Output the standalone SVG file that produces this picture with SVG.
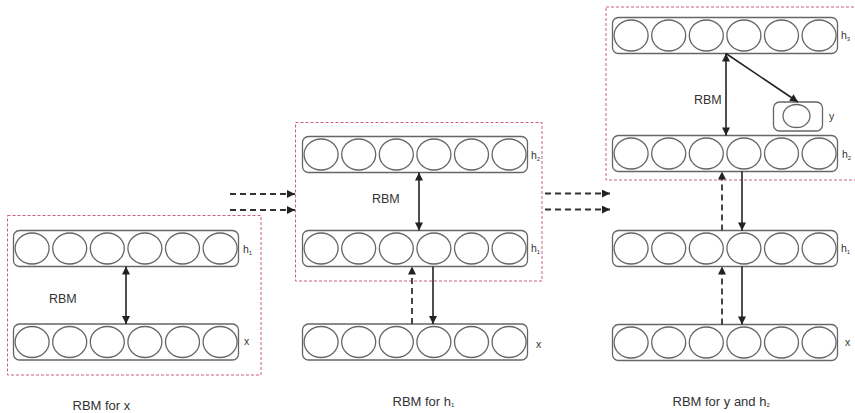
<svg xmlns="http://www.w3.org/2000/svg" xmlns:xlink="http://www.w3.org/1999/xlink" width="855" height="413" viewBox="0 0 855 413">
  <style>
    .frame { fill: none; stroke: #c8607a; stroke-width: 1; stroke-dasharray: 3 2; }
    .box { fill: #fff; stroke: #666; stroke-width: 1.3; }
    .unit { fill: #fff; stroke: #666; stroke-width: 1.3; }
    .solid { fill: none; stroke: #222; stroke-width: 1.6; }
    .dash { fill: none; stroke: #333; stroke-width: 1.8; stroke-dasharray: 6 4; }
    .lbl { font-family: "Liberation Sans", Arial, sans-serif; font-size: 10.5px; fill: #333; }
    .rbm { font-family: "Liberation Sans", Arial, sans-serif; font-size: 12.5px; fill: #333; }
    .cap { font-family: "Liberation Sans", Arial, sans-serif; font-size: 13px; fill: #333; }
    .sub { font-size: 6px; }
  </style>
  <defs>
    <marker id="head" viewBox="0 0 10 10" refX="10" refY="5" markerWidth="9" markerHeight="8" markerUnits="userSpaceOnUse" orient="auto-start-reverse">
      <path d="M0,0 L10,5 L0,10 z" fill="#222"/>
    </marker>
    <!-- one layer: rounded box holding six units -->
    <g id="row">
      <rect class="box" x="0" y="0" width="225" height="36" rx="6"/>
      <ellipse class="unit" cx="18.6" cy="18" rx="17" ry="15.5"/>
      <ellipse class="unit" cx="56.2" cy="18" rx="17" ry="15.5"/>
      <ellipse class="unit" cx="93.8" cy="18" rx="17" ry="15.5"/>
      <ellipse class="unit" cx="131.4" cy="18" rx="17" ry="15.5"/>
      <ellipse class="unit" cx="169" cy="18" rx="17" ry="15.5"/>
      <ellipse class="unit" cx="206.6" cy="18" rx="17" ry="15.5"/>
    </g>
  </defs>

  <!-- dashed frames around each RBM -->
  <g id="frames">
    <rect class="frame" x="7.5" y="215.5" width="253.5" height="159.5"/>
    <rect class="frame" x="295.5" y="122.5" width="246.5" height="158.5"/>
    <rect class="frame" x="606" y="7" width="254" height="173"/>
  </g>

  <!-- stage 1: RBM for x -->
  <g id="s1-h1"><use xlink:href="#row" x="13.5" y="230.5"/><text class="lbl" x="243" y="253">h<tspan class="sub" dy="1.5">1</tspan></text></g>
  <g id="s1-x"><use xlink:href="#row" x="13.5" y="324"/><text class="lbl" x="244" y="345">x</text></g>

  <!-- stage 2: RBM for h1 -->
  <g id="s2-h2"><use xlink:href="#row" x="302.5" y="136.5"/><text class="lbl" x="531" y="159">h<tspan class="sub" dy="1.5">2</tspan></text></g>
  <g id="s2-h1"><use xlink:href="#row" x="302.5" y="230.5"/><text class="lbl" x="531" y="252">h<tspan class="sub" dy="1.5">1</tspan></text></g>
  <g id="s2-x"><use xlink:href="#row" x="302.5" y="324"/><text class="lbl" x="536" y="348">x</text></g>

  <!-- stage 3: RBM for y and h2 -->
  <g id="s3-h3"><use xlink:href="#row" x="612.5" y="17.5"/><text class="lbl" x="841" y="39">h<tspan class="sub" dy="1.5">3</tspan></text></g>
  <g id="s3-y">
    <rect class="box" x="773.5" y="102" width="49" height="29" rx="6"/>
    <ellipse class="unit" cx="796.5" cy="116" rx="13.5" ry="11.5"/>
    <text class="lbl" x="829" y="120">y</text>
  </g>
  <g id="s3-h2"><use xlink:href="#row" x="612.5" y="135.5"/><text class="lbl" x="842" y="158">h<tspan class="sub" dy="1.5">2</tspan></text></g>
  <g id="s3-h1"><use xlink:href="#row" x="612.5" y="230.5"/><text class="lbl" x="841" y="252">h<tspan class="sub" dy="1.5">1</tspan></text></g>
  <g id="s3-x"><use xlink:href="#row" x="612.5" y="324.5"/><text class="lbl" x="845" y="346">x</text></g>

  <!-- connectors -->
  <g id="connectors">
    <!-- stage 1 -->
    <line class="solid" x1="126" y1="266.5" x2="126" y2="324" marker-start="url(#head)" marker-end="url(#head)"/>
    <!-- hand-over from stage 1 to stage 2 -->
    <line class="dash" x1="230" y1="194" x2="295" y2="194" marker-end="url(#head)"/>
    <line class="dash" x1="230" y1="210" x2="295" y2="210" marker-end="url(#head)"/>
    <!-- stage 2 -->
    <line class="solid" x1="419" y1="172.5" x2="419" y2="230.5" marker-start="url(#head)" marker-end="url(#head)"/>
    <line class="dash" x1="412" y1="324" x2="412" y2="266.5" marker-end="url(#head)"/>
    <line class="solid" x1="433" y1="266.5" x2="433" y2="324" marker-end="url(#head)"/>
    <!-- hand-over from stage 2 to stage 3 -->
    <line class="dash" x1="545" y1="193.5" x2="610" y2="193.5" marker-end="url(#head)"/>
    <line class="dash" x1="545" y1="209.5" x2="610" y2="209.5" marker-end="url(#head)"/>
    <!-- stage 3 -->
    <line class="solid" x1="726" y1="53.5" x2="726" y2="135.5" marker-start="url(#head)" marker-end="url(#head)"/>
    <line class="solid" x1="726" y1="53.5" x2="798" y2="102" marker-end="url(#head)"/>
    <line class="dash" x1="722" y1="230.5" x2="722" y2="171.5" marker-end="url(#head)"/>
    <line class="solid" x1="742" y1="171.5" x2="742" y2="230.5" marker-end="url(#head)"/>
    <line class="dash" x1="722" y1="324.5" x2="722" y2="266.5" marker-end="url(#head)"/>
    <line class="solid" x1="742" y1="266.5" x2="742" y2="324.5" marker-end="url(#head)"/>
  </g>

  <!-- RBM tags -->
  <g id="rbm-tags">
    <text class="rbm" x="49" y="302.5">RBM</text>
    <text class="rbm" x="372" y="202.5">RBM</text>
    <text class="rbm" x="694" y="104">RBM</text>
  </g>

  <!-- captions -->
  <g id="captions">
    <text class="cap" x="72.5" y="409.5">RBM for x</text>
    <text class="cap" x="392.5" y="406">RBM for h<tspan class="sub" dy="1">1</tspan></text>
    <text class="cap" x="672.5" y="406">RBM for y and h<tspan class="sub" dy="1">2</tspan></text>
  </g>
</svg>
